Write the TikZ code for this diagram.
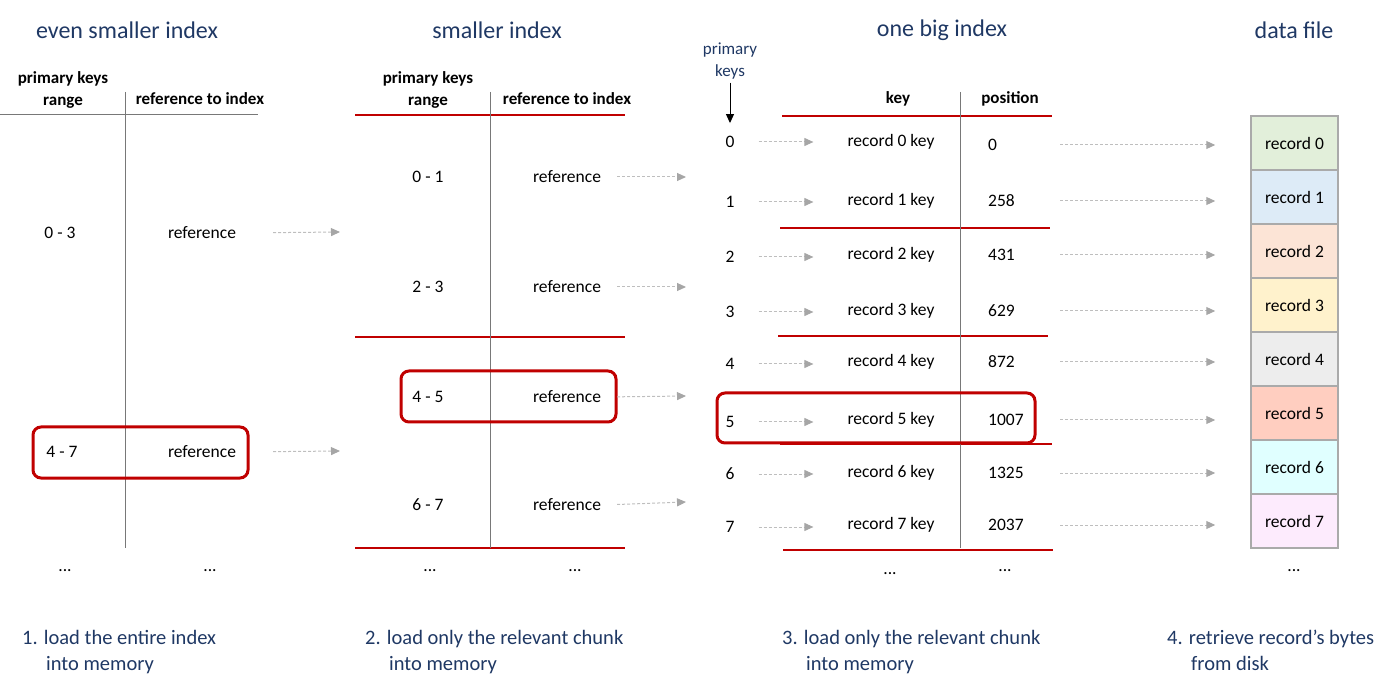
\documentclass[tikz,border=0pt]{standalone}
\usepackage{fontspec}
\setmainfont{Carlito}
\usetikzlibrary{arrows.meta}

\definecolor{navy}{RGB}{31,56,100}
\definecolor{darkred}{RGB}{192,0,0}
\definecolor{linegray}{RGB}{120,120,120}
\definecolor{ptrgray}{RGB}{190,190,190}
\definecolor{tipgray}{RGB}{166,166,166}
\definecolor{boxgray}{RGB}{170,170,170}
\definecolor{fill0}{RGB}{226,239,218}
\definecolor{fill1}{RGB}{221,235,247}
\definecolor{fill2}{RGB}{252,228,214}
\definecolor{fill3}{RGB}{255,242,204}
\definecolor{fill4}{RGB}{237,237,237}
\definecolor{fill5}{RGB}{255,206,192}
\definecolor{fill6}{RGB}{224,255,255}
\definecolor{fill7}{RGB}{253,235,253}

\tikzset{
  title/.style={text=navy,font=\fontsize{24}{28}\selectfont},
  hdr/.style={font=\fontsize{17}{22}\selectfont\bfseries,align=center},
  cell/.style={font=\fontsize{17.5}{21}\selectfont,inner sep=2pt},
  posn/.style={cell,anchor=west,text width=46pt,align=left},
  note/.style={text=navy,font=\fontsize{20.5}{26}\selectfont,align=left,anchor=north west,inner sep=0pt},
  gridline/.style={draw=linegray,line width=1pt},
  redline/.style={draw=darkred,line width=1.3pt},
  hlbox/.style={draw=darkred,line width=3pt,rounded corners=8pt},
  recbox/.style={draw=boxgray,line width=1.5pt,minimum width=87pt,minimum height=54pt,
    font=\fontsize{17.5}{21}\selectfont},
  ptr/.style={draw=ptrgray,line width=1pt,dash pattern=on 3pt off 2pt,
    -{Triangle[length=9pt,width=8pt,fill=tipgray,color=tipgray]}}
}

\begin{document}
\begin{tikzpicture}[x=1pt,y=-1pt]
\useasboundingbox (0,0) rectangle (1398,684);

% even smaller index
\node[title] (t1) at (127,30) {even smaller index};
\node[hdr] (h1a) at (63,90) {primary keys\\range};
\node[hdr] (h1b) at (200,99) {reference to index};
\path[gridline] (0,115) -- (258,115);
\path[gridline] (125,92) -- (125,548);
\node[cell] (a03) at (60,233) {0 - 3};
\node[cell] (ra03) at (202,233) {reference};
\node[cell] (a47) at (62,452) {4 - 7};
\node[cell] (ra47) at (202,452) {reference};
\node[cell] (da1) at (65,571) {...};
\node[cell] (da2) at (210,571) {...};
\path[hlbox] (33,427) rectangle (248,478);
\coordinate (ea03) at (340,232);
\coordinate (ea47) at (340,451);
\path[ptr,shorten <=35pt] (ra03.east) -- (ea03);
\path[ptr,shorten <=35pt] (ra47.east) -- (ea47);
\node[note] (n1) at (22,630) {1. load the entire index\\\hspace*{24pt}into memory};

% smaller index
\node[title] (t2) at (497,30) {smaller index};
\node[hdr] (h2a) at (428,90) {primary keys\\range};
\node[hdr] (h2b) at (567,99) {reference to index};
\path[redline] (355,115) -- (625,115);
\path[redline] (355,337) -- (625,337);
\path[redline] (355,548) -- (625,548);
\path[gridline] (490,92) -- (490,548);
\node[cell] (b01) at (428,177) {0 - 1};
\node[cell] (rb01) at (567,177) {reference};
\node[cell] (b23) at (428,287) {2 - 3};
\node[cell] (rb23) at (567,287) {reference};
\node[cell] (b45) at (428,397) {4 - 5};
\node[cell] (rb45) at (567,397) {reference};
\node[cell] (b67) at (428,505) {6 - 7};
\node[cell] (rb67) at (567,505) {reference};
\node[cell] (db1) at (430,571) {...};
\node[cell] (db2) at (575,571) {...};
\path[hlbox] (401,371) rectangle (616,422);
\coordinate (eb01) at (686,177);
\coordinate (eb23) at (686,287);
\coordinate (eb45) at (686,396);
\coordinate (eb67) at (686,502);
\path[ptr,shorten <=14pt] (rb01.east) -- (eb01);
\path[ptr,shorten <=14pt] (rb23.east) -- (eb23);
\path[ptr,shorten <=14pt] (rb45.east) -- (eb45);
\path[ptr,shorten <=14pt] (rb67.east) -- (eb67);
\node[note] (n2) at (365,630) {2. load only the relevant chunk\\\hspace*{24pt}into memory};

% one big index
\node[title] (t3) at (942,30) {one big index};
\node[text=navy,font=\fontsize{17}{22}\selectfont,align=center] (pk) at (730,61) {primary\\keys};
\node[hdr] (h3a) at (898,99) {key};
\node[hdr] (h3b) at (1010,99) {position};
\path[redline] (782,116) -- (1052,116);
\path[redline] (780,228) -- (1050,228);
\path[redline] (778,336) -- (1048,336);
\path[redline] (780,444) -- (1052,444);
\path[redline] (783,550) -- (1053,550);
\path[gridline] (960,92) -- (960,548);

\node[cell] (k0) at (730,142) {0};
\node[cell] (k1) at (730,202) {1};
\node[cell] (k2) at (730,257) {2};
\node[cell] (k3) at (730,312) {3};
\node[cell] (k4) at (730,364) {4};
\node[cell] (k5) at (730,422) {5};
\node[cell] (k6) at (730,474) {6};
\node[cell] (k7) at (730,527) {7};

\node[cell] (rk0) at (891,142) {record 0 key};
\node[cell] (rk1) at (891,201) {record 1 key};
\node[cell] (rk2) at (891,255) {record 2 key};
\node[cell] (rk3) at (891,311) {record 3 key};
\node[cell] (rk4) at (891,362) {record 4 key};
\node[cell] (rk5) at (891,420) {record 5 key};
\node[cell] (rk6) at (891,473) {record 6 key};
\node[cell] (rk7) at (891,525) {record 7 key};

\node[posn] (p0) at (986,145) {0};
\node[posn] (p1) at (986,201) {258};
\node[posn] (p2) at (986,255) {431};
\node[posn] (p3) at (986,311) {629};
\node[posn] (p4) at (986,362) {872};
\node[posn] (p5) at (986,420) {1007};
\node[posn] (p6) at (986,473) {1325};
\node[posn] (p7) at (986,525) {2037};

\node[cell] (dc1) at (890,574) {...};
\node[cell] (dc2) at (1005,571) {...};
\path[hlbox] (717,393) rectangle (1035,443);

\path[draw,line width=1pt,-{Triangle[length=9pt,width=8pt]},shorten >=11pt] (pk) -- (k0);

\path[ptr,shorten <=22pt,shorten >=32pt] (k0.east) -- (k0.east -| rk0.west);
\path[ptr,shorten <=22pt,shorten >=32pt] (k1.east) -- (k1.east -| rk1.west);
\path[ptr,shorten <=22pt,shorten >=32pt] (k2.east) -- (k2.east -| rk2.west);
\path[ptr,shorten <=22pt,shorten >=32pt] (k3.east) -- (k3.east -| rk3.west);
\path[ptr,shorten <=22pt,shorten >=32pt] (k4.east) -- (k4.east -| rk4.west);
\path[ptr,shorten <=22pt,shorten >=32pt] (k5.east) -- (k5.east -| rk5.west);
\path[ptr,shorten <=22pt,shorten >=32pt] (k6.east) -- (k6.east -| rk6.west);
\path[ptr,shorten <=22pt,shorten >=32pt] (k7.east) -- (k7.east -| rk7.west);
\node[note] (n3) at (782,630) {3. load only the relevant chunk\\\hspace*{24pt}into memory};

% data file
\node[title] (t4) at (1294,30) {data file};
\node[recbox,fill=fill0] (rec0) at (1294.5,143) {record 0};
\node[recbox,fill=fill1] (rec1) at (1294.5,197) {record 1};
\node[recbox,fill=fill2] (rec2) at (1294.5,251) {record 2};
\node[recbox,fill=fill3] (rec3) at (1294.5,305) {record 3};
\node[recbox,fill=fill4] (rec4) at (1294.5,359) {record 4};
\node[recbox,fill=fill5] (rec5) at (1294.5,413) {record 5};
\node[recbox,fill=fill6] (rec6) at (1294.5,467) {record 6};
\node[recbox,fill=fill7] (rec7) at (1294.5,521) {record 7};
\node[cell] (dd) at (1294,571) {...};

\path[ptr,shorten <=24pt,shorten >=35pt] (p0.east) -- (p0.east -| rec0.west);
\path[ptr,shorten <=24pt,shorten >=35pt] (p1.east) -- (p1.east -| rec1.west);
\path[ptr,shorten <=24pt,shorten >=35pt] (p2.east) -- (p2.east -| rec2.west);
\path[ptr,shorten <=24pt,shorten >=35pt] (p3.east) -- (p3.east -| rec3.west);
\path[ptr,shorten <=24pt,shorten >=35pt] (p4.east) -- (p4.east -| rec4.west);
\path[ptr,shorten <=24pt,shorten >=35pt] (p5.east) -- (p5.east -| rec5.west);
\path[ptr,shorten <=24pt,shorten >=35pt] (p6.east) -- (p6.east -| rec6.west);
\path[ptr,shorten <=24pt,shorten >=35pt] (p7.east) -- (p7.east -| rec7.west);
\node[note] (n4) at (1167,630) {4. retrieve record’s bytes\\\hspace*{24pt}from disk};
\end{tikzpicture}
\end{document}
